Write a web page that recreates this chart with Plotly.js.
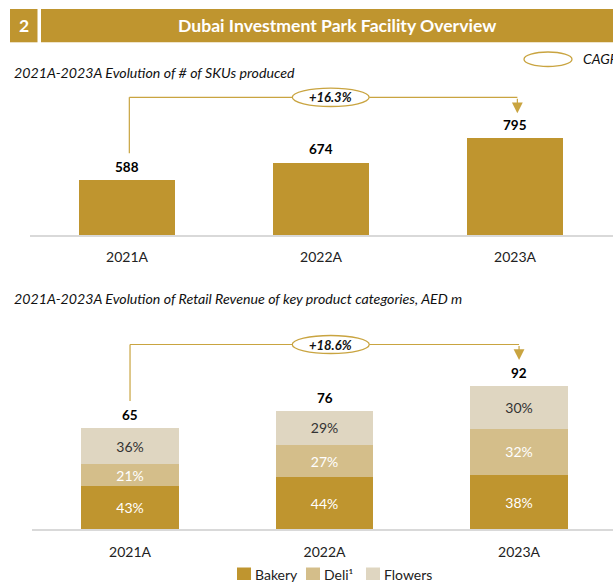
<!DOCTYPE html>
<html>
<head>
<meta charset="utf-8">
<script src="https://cdn.plot.ly/plotly-3.0.1.min.js"></script>
<style>html,body{margin:0;padding:0;background:#fff;}#chart{width:613px;height:582px;}</style>
</head>
<body>
<div id="chart"></div>
<script>
// ---- data ----
const years = ['2021A', '2022A', '2023A'];
const skus = [588, 674, 795];
const skuCagr = '+16.3%';
const revenueTotal = [65, 76, 92];
const bakeryShare = [43, 44, 38];
const deliShare = [21, 27, 32];
const flowersShare = [36, 29, 30];
const revCagr = '+18.6%';
const seriesNames = ['Bakery', 'Deli¹', 'Flowers'];
const titleNum = '2';
const titleText = 'Dubai Investment Park Facility Overview';
const sub1 = '2021A-2023A Evolution of # of SKUs produced';
const sub2 = '2021A-2023A Evolution of Retail Revenue of key product categories, AED m';
const cagrLabel = 'CAGR';

// ---- style ----
const W = 613, H = 582;
const GOLD = '#BF952F', DELI = '#D4BE8A', FLOW = '#DFD6C1', LINE = '#C9A440';
const FONT = 'Lato, "Open Sans", sans-serif';
const px = v => v / W;
const py = v => 1 - v / H;

const shares = [bakeryShare, deliShare, flowersShare];
const colors = [GOLD, DELI, FLOW];
const txtColors = ['#ffffff', '#ffffff', '#333333'];

const traces = [{
  type: 'bar', x: years, y: skus, xaxis: 'x', yaxis: 'y',
  marker: {color: GOLD}, width: 0.49, showlegend: false, hoverinfo: 'x+y'
}];
shares.forEach((s, i) => {
  traces.push({
    type: 'bar', x: years, y: s.map((p, j) => revenueTotal[j] * p / 100),
    xaxis: 'x2', yaxis: 'y2', name: seriesNames[i], showlegend: false,
    marker: {color: colors[i]}, width: 0.5,
    text: s.map(p => p + '%'), textposition: 'inside', insidetextanchor: 'middle',
    constraintext: 'none', textangle: 0,
    textfont: {family: FONT, size: 14, color: txtColors[i]},
    hoverinfo: 'name+y'
  });
});

// axis geometry
const topMin = 311.5, topScale = 0.2;   // px per unit
const botScale = 1.56;
const topBase = 235, botBase = 529.3;
const topH = topMin + (topBase - 97.3) / topScale;
const topTip = topMin + (topBase - 113.3) / topScale;
const topStart = topMin + (topBase - 153.3) / topScale;
const botH = (botBase - 344.5) / botScale;
const botTip = (botBase - 360) / botScale;
const botStart = (botBase - 401) / botScale;
const ellTopX = 1.05, ellBotX = 1.032, ellHalf = 0.198;

const shapes = [
  // header
  {type: 'rect', xref: 'paper', yref: 'paper', x0: px(10), x1: px(37.5), y0: py(42.3), y1: py(9), fillcolor: GOLD, line: {width: 0}},
  {type: 'rect', xref: 'paper', yref: 'paper', x0: px(41), x1: px(613), y0: py(42.3), y1: py(9), fillcolor: GOLD, line: {width: 0}},
  // CAGR legend ellipse
  {type: 'circle', xref: 'paper', yref: 'paper', x0: px(524), x1: px(572), y0: py(66.5), y1: py(52), fillcolor: '#ffffff', line: {color: LINE, width: 1.3}},
  // top connector
  {type: 'line', xref: 'x', yref: 'y', x0: 0.012, x1: 0.012, y0: topStart, y1: topH, line: {color: LINE, width: 1.2}},
  {type: 'line', xref: 'x', yref: 'y', x0: 0.012, x1: 2.012, y0: topH, y1: topH, line: {color: LINE, width: 1.2}},
  {type: 'circle', xref: 'x', yref: 'y', x0: ellTopX - ellHalf, x1: ellTopX + ellHalf, y0: topH - 9.2 / topScale, y1: topH + 9.2 / topScale, fillcolor: '#ffffff', line: {color: LINE, width: 1.3}},
  // bottom connector
  {type: 'line', xref: 'x2', yref: 'y2', x0: 0, x1: 0, y0: botStart, y1: botH, line: {color: LINE, width: 1.2}},
  {type: 'line', xref: 'x2', yref: 'y2', x0: 0, x1: 2, y0: botH, y1: botH, line: {color: LINE, width: 1.2}},
  {type: 'circle', xref: 'x2', yref: 'y2', x0: ellBotX - ellHalf, x1: ellBotX + ellHalf, y0: botH - 9 / botScale, y1: botH + 9 / botScale, fillcolor: '#ffffff', line: {color: LINE, width: 1.3}}
];

const annotations = [
  {xref: 'paper', yref: 'paper', x: px(23.5), y: py(25.7), text: '<b>' + titleNum + '</b>', showarrow: false, font: {family: FONT, size: 17.5, color: '#ffffff'}, xanchor: 'center', yanchor: 'middle'},
  {xref: 'paper', yref: 'paper', x: px(336.5), y: py(25.7), text: '<b>' + titleText + '</b>', showarrow: false, font: {family: FONT, size: 17.6, color: '#ffffff'}, xanchor: 'center', yanchor: 'middle'},
  {xref: 'paper', yref: 'paper', x: px(12), y: py(72), text: '<i>' + sub1 + '</i>', showarrow: false, font: {family: FONT, size: 14.2, color: '#111111'}, xanchor: 'left', yanchor: 'middle'},
  {xref: 'paper', yref: 'paper', x: px(12), y: py(298), text: '<i>' + sub2 + '</i>', showarrow: false, font: {family: FONT, size: 14.2, color: '#111111'}, xanchor: 'left', yanchor: 'middle'},
  {xref: 'paper', yref: 'paper', x: px(581), y: py(59), text: '<i>' + cagrLabel + '</i>', showarrow: false, font: {family: FONT, size: 14, color: '#111111'}, xanchor: 'left', yanchor: 'middle'},
  // arrows
  {xref: 'x', yref: 'y', x: 2.012, y: topTip, ax: 0, ay: -(113.3 - 97.3), axref: 'pixel', ayref: 'pixel', text: '', showarrow: true, arrowhead: 2, arrowsize: 1.8, arrowwidth: 1.2, arrowcolor: LINE, standoff: 0, startstandoff: 0},
  {xref: 'x2', yref: 'y2', x: 2, y: botTip, ax: 0, ay: -(360 - 344.5), axref: 'pixel', ayref: 'pixel', text: '', showarrow: true, arrowhead: 2, arrowsize: 1.8, arrowwidth: 1.2, arrowcolor: LINE, standoff: 0, startstandoff: 0},
  // CAGR texts
  {xref: 'x', yref: 'y', x: ellTopX, y: topH, text: '<b><i>' + skuCagr + '</i></b>', showarrow: false, font: {family: FONT, size: 13, color: '#111111'}, xanchor: 'center', yanchor: 'middle'},
  {xref: 'x2', yref: 'y2', x: ellBotX, y: botH, text: '<b><i>' + revCagr + '</i></b>', showarrow: false, font: {family: FONT, size: 13, color: '#111111'}, xanchor: 'center', yanchor: 'middle'}
];
years.forEach((yr, i) => {
  annotations.push({xref: 'x', yref: 'y', x: yr, y: skus[i], text: '<b>' + skus[i] + '</b>', showarrow: false, yanchor: 'bottom', yshift: 3, font: {family: FONT, size: 13.5, color: '#000000'}});
  annotations.push({xref: 'x2', yref: 'y2', x: yr, y: revenueTotal[i], text: '<b>' + revenueTotal[i] + '</b>', showarrow: false, yanchor: 'bottom', yshift: 3, font: {family: FONT, size: 13.5, color: '#000000'}});
});

// custom legend (swatch + label) under the lower chart
const legX = [237, 306, 366];
seriesNames.forEach((n, i) => {
  shapes.push({type: 'rect', xref: 'paper', yref: 'paper', x0: px(legX[i]), x1: px(legX[i] + 14), y0: py(580), y1: py(567.5), fillcolor: colors[i], line: {width: 0}});
  annotations.push({xref: 'paper', yref: 'paper', x: px(legX[i] + 16), y: py(574), text: n, showarrow: false, xanchor: 'left', yanchor: 'middle', font: {family: FONT, size: 14, color: '#222222'}});
});

const xBase = {type: 'category', showgrid: false, zeroline: false, showline: true, linecolor: '#D9D9D9', linewidth: 1.5, ticks: '', ticklabelstandoff: 9, tickfont: {family: FONT, size: 14, color: '#222222'}, fixedrange: true, automargin: false};
const yBase = {showgrid: false, zeroline: false, showline: false, showticklabels: false, ticks: '', fixedrange: true, automargin: false};

const layout = {
  width: W, height: H,
  margin: {l: 0, r: 0, t: 0, b: 0, pad: 0},
  paper_bgcolor: '#ffffff', plot_bgcolor: '#ffffff',
  barmode: 'stack',
  font: {family: FONT, size: 13, color: '#222222'},
  xaxis: Object.assign({}, xBase, {domain: [px(30), 1], range: [-0.5, 2.505], anchor: 'y'}),
  yaxis: Object.assign({}, yBase, {domain: [py(topBase), py(80)], range: [topMin, topMin + (topBase - 80) / topScale], anchor: 'x'}),
  xaxis2: Object.assign({}, xBase, {domain: [px(32), 1], range: [-0.504, 2.483], anchor: 'y2'}),
  yaxis2: Object.assign({}, yBase, {domain: [py(botBase), py(330)], range: [0, (botBase - 330) / botScale], anchor: 'x2'}),
  showlegend: false,
  shapes: shapes,
  annotations: annotations
};

Plotly.newPlot('chart', traces, layout, {displayModeBar: false, staticPlot: true});
</script>
</body>
</html>
